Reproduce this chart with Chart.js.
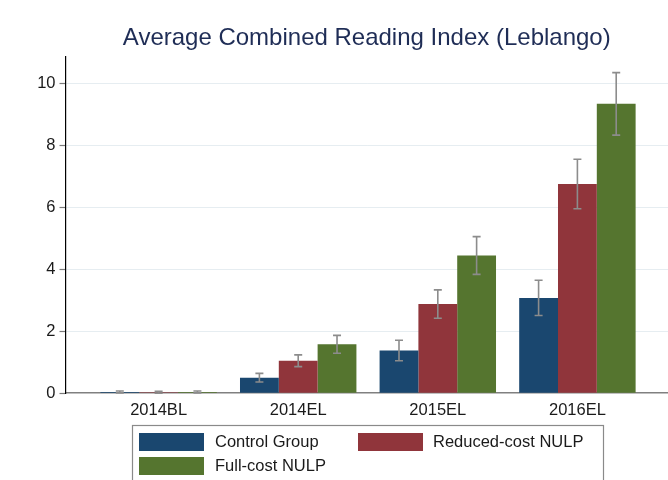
<!DOCTYPE html>
<html>
<head>
<meta charset="utf-8">
<script src="https://cdn.jsdelivr.net/npm/chart.js@4.4.1/dist/chart.umd.min.js"></script>
<style>
  html, body { margin: 0; padding: 0; background: #ffffff; overflow: hidden; }
  #wrap { position: relative; width: 668px; height: 480px; }
</style>
</head>
<body>
<div id="wrap"><canvas id="c" width="668" height="480"></canvas></div>
<script>
// ---- data ----
const categories = ["2014BL", "2014EL", "2015EL", "2016EL"];
const seriesNames = ["Control Group", "Reduced-cost NULP", "Full-cost NULP"];
const controlValues = [0.04, 0.50, 1.38, 3.08];
const reducedValues = [0.03, 1.05, 2.88, 6.76];
const fullValues    = [0.04, 1.58, 4.45, 9.35];
const controlErr = [0.03, 0.14, 0.33, 0.57];
const reducedErr = [0.03, 0.19, 0.46, 0.80];
const fullErr    = [0.03, 0.29, 0.61, 1.01];
const yTickValues = [0, 2, 4, 6, 8, 10];
const chartTitle = "Average Combined Reading Index (Leblango)";

// ---- styles ----
const colors = ["#1a476f", "#90353b", "#55752f"];
const FONT = "'Liberation Sans', Arial, Helvetica, sans-serif";

function toPoints(vals) { return vals.map((v, i) => ({ x: i, y: v })); }
const allValues = [controlValues, reducedValues, fullValues];
const allErrs = [controlErr, reducedErr, fullErr];

const errorBarPlugin = {
  id: 'errorBars',
  afterDatasetsDraw(chart) {
    const ctx = chart.ctx;
    const yScale = chart.scales.y;
    ctx.save();
    ctx.strokeStyle = '#8c8c8c';
    ctx.lineWidth = 1.6;
    chart.data.datasets.forEach((ds, di) => {
      const meta = chart.getDatasetMeta(di);
      meta.data.forEach((bar, j) => {
        const v = allValues[di][j], e = allErrs[di][j];
        const yTop = yScale.getPixelForValue(v + e);
        const yBot = yScale.getPixelForValue(v - e);
        const x = bar.x;
        const cap = 4;
        ctx.beginPath();
        ctx.moveTo(x, yTop); ctx.lineTo(x, yBot);
        ctx.moveTo(x - cap, yTop); ctx.lineTo(x + cap, yTop);
        ctx.moveTo(x - cap, yBot); ctx.lineTo(x + cap, yBot);
        ctx.stroke();
      });
    });
    ctx.restore();
  }
};

const boxLegendPlugin = {
  id: 'boxLegend',
  afterDraw(chart) {
    const ctx = chart.ctx;
    ctx.save();
    ctx.strokeStyle = '#8a8a8a';
    ctx.lineWidth = 1.2;
    ctx.strokeRect(132.5, 425.5, 471, 60);
    const items = [
      { sx: 139, sy: 433, tx: 215 },
      { sx: 358, sy: 433, tx: 433 },
      { sx: 139, sy: 457, tx: 215 }
    ];
    ctx.font = "16.5px " + FONT;
    ctx.textBaseline = 'middle';
    ctx.textAlign = 'left';
    chart.data.datasets.forEach((ds, i) => {
      const it = items[i];
      ctx.fillStyle = ds.backgroundColor;
      ctx.fillRect(it.sx, it.sy, 65, 18);
      ctx.fillStyle = '#1a1a1a';
      ctx.fillText(ds.label, it.tx, it.sy + 9.5);
    });
    ctx.restore();
  }
};

new Chart(document.getElementById('c'), {
  type: 'bar',
  data: {
    datasets: seriesNames.map((name, i) => ({
      label: name,
      data: toPoints(allValues[i]),
      backgroundColor: colors[i],
      borderWidth: 0,
      categoryPercentage: 0.834,
      barPercentage: 1.0
    }))
  },
  options: {
    responsive: false,
    animation: false,
    devicePixelRatio: 1,
    layout: { padding: { left: 0, right: 0, top: 0, bottom: 53 } },
    plugins: {
      legend: { display: false },
      tooltip: { enabled: false },
      title: {
        display: true,
        fullSize: false,
        text: chartTitle,
        color: '#1f2d56',
        font: { family: FONT, size: 24, weight: 'normal' },
        padding: { top: 24, bottom: 4 }
      }
    },
    scales: {
      x: {
        type: 'linear',
        min: -0.667,
        max: 3.649,
        offset: false,
        afterBuildTicks: s => { s.ticks = categories.map((c, i) => ({ value: i })); },
        ticks: {
          autoSkip: false,
          maxRotation: 0,
          padding: 7,
          color: '#1a1a1a',
          font: { family: FONT, size: 16.5 },
          callback: v => categories[v]
        },
        grid: { display: false, drawTicks: false },
        border: { display: true, color: '#808080', width: 1.6 }
      },
      y: {
        min: 0,
        max: 10.87,
        afterFit: s => { s.width = 65.5; },
        afterBuildTicks: s => { s.ticks = yTickValues.map(v => ({ value: v })); },
        ticks: {
          padding: 4,
          color: '#1a1a1a',
          font: { family: FONT, size: 16.5 }
        },
        grid: {
          color: ctx => (ctx.tick && ctx.tick.value === 0) ? 'rgba(0,0,0,0)' : '#e6edf1',
          lineWidth: 1,
          drawTicks: true,
          tickLength: 6,
          tickColor: '#7a7a7a',
          tickWidth: 1.2
        },
        border: { display: true, color: '#000000', width: 1.2 }
      }
    }
  },
  plugins: [errorBarPlugin, boxLegendPlugin]
});
</script>
</body>
</html>
